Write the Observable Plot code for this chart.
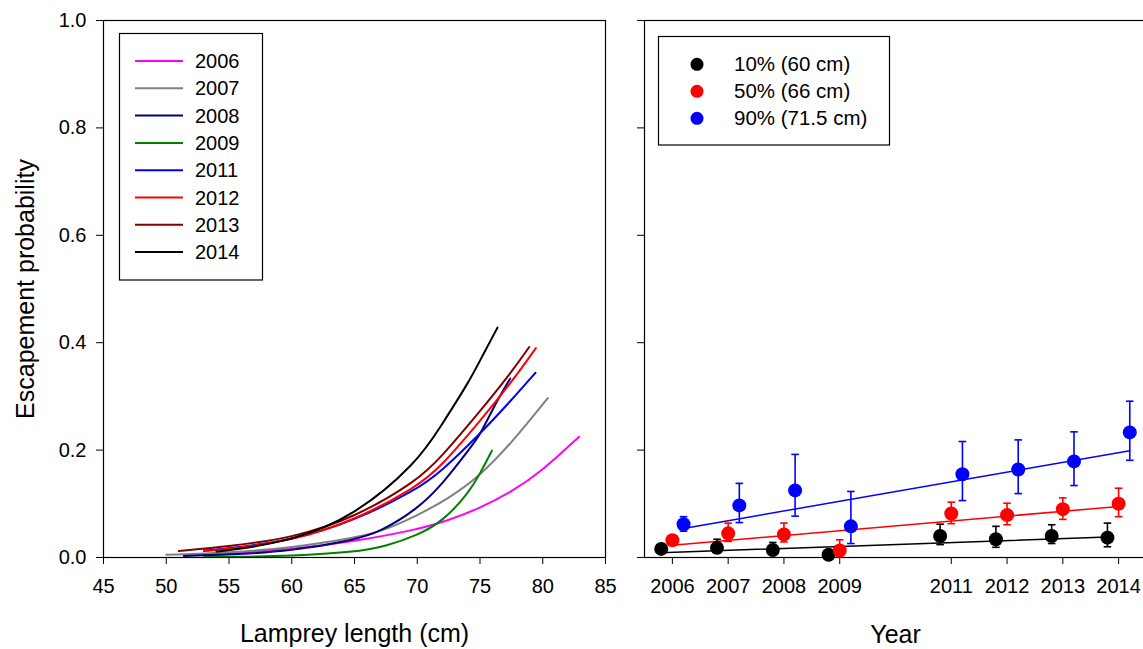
<!DOCTYPE html>
<html><head><meta charset="utf-8">
<script src="https://cdn.jsdelivr.net/npm/d3@7"></script>
<script src="https://cdn.jsdelivr.net/npm/@observablehq/plot@0.6"></script>
<style>
body{margin:0;background:#fff;}
#wrap{position:relative;width:1143px;height:649px;overflow:hidden;background:#fff;}
#left,#right{position:absolute;top:0;}
#left{left:0;width:620px;}
#right{left:620px;width:530px;}
#left svg,#right svg{max-width:none;}
#legend{position:absolute;left:0;top:0;}
</style></head>
<body><div id="wrap"><div id="left"></div><div id="right"></div><svg id="legend" width="1143" height="649"></svg></div>
<script>
const FONT = "Liberation Sans, Arial, sans-serif";

// ---------- Left panel data ----------
const curveYears = ["2006","2007","2008","2009","2011","2012","2013","2014"];
const curveColors = ["#ff00ff","#808080","#000080","#008000","#0000ff","#ff0000","#800000","#000000"];
const len2006 = [52, 55, 60, 65, 70, 72.36, 75, 77.5, 80, 82.9];
const prob2006 = [0.005, 0.008, 0.015, 0.030, 0.052, 0.068, 0.092, 0.122, 0.162, 0.225];
const len2007 = [50, 55, 60, 65, 67, 70, 72.5, 75, 77.5, 80.4];
const prob2007 = [0.005, 0.009, 0.018, 0.037, 0.047, 0.078, 0.110, 0.152, 0.213, 0.297];
const len2008 = [51.4, 55, 60, 65, 67, 70, 72, 74.35, 75, 76.3, 77.4];
const prob2008 = [0.003, 0.005, 0.012, 0.033, 0.047, 0.090, 0.136, 0.208, 0.228, 0.290, 0.333];
const len2009 = [53, 55, 60, 65, 67.5, 70, 72, 74, 75, 75.95];
const prob2009 = [0.0008, 0.0012, 0.003, 0.010, 0.021, 0.041, 0.067, 0.117, 0.156, 0.199];
const len2011 = [53, 55, 60, 65, 70, 71.84, 75, 77.5, 79.42];
const prob2011 = [0.013, 0.017, 0.032, 0.068, 0.127, 0.159, 0.230, 0.293, 0.344];
const len2012 = [53, 55, 60, 65, 70, 71.84, 75, 77.5, 79.45];
const prob2012 = [0.012, 0.016, 0.031, 0.069, 0.132, 0.168, 0.254, 0.326, 0.390];
const len2013 = [51, 55, 60, 65, 70, 71.84, 75, 77.5, 78.92];
const prob2013 = [0.012, 0.021, 0.036, 0.074, 0.143, 0.185, 0.272, 0.345, 0.392];
const len2014 = [54, 55, 60, 65, 70, 71.84, 74.17, 75, 76.39];
const prob2014 = [0.011, 0.013, 0.031, 0.077, 0.177, 0.243, 0.329, 0.367, 0.428];
const curveLengths = [len2006, len2007, len2008, len2009, len2011, len2012, len2013, len2014];
const curveProbs = [prob2006, prob2007, prob2008, prob2009, prob2011, prob2012, prob2013, prob2014];

const lengthTicks = [45, 50, 55, 60, 65, 70, 75, 80, 85];
const probTicks = [0, 0.2, 0.4, 0.6, 0.8, 1.0];
const leftXTitle = "Lamprey length (cm)";
const yTitle = "Escapement probability";

// ---------- Right panel data ----------
const years = [2006, 2007, 2008, 2009, 2011, 2012, 2013, 2014];
const seriesNames = ["10% (60 cm)", "50% (66 cm)", "90% (71.5 cm)"];
const seriesColors = ["#000000", "#ff0000", "#0000ff"];
const est10 = [0.016, 0.018, 0.014, 0.005, 0.040, 0.034, 0.040, 0.037];
const lo10  = [0.011, 0.008, 0.006, 0.001, 0.024, 0.019, 0.026, 0.020];
const hi10  = [0.021, 0.034, 0.028, 0.009, 0.062, 0.058, 0.061, 0.064];
const est50 = [0.032, 0.045, 0.043, 0.013, 0.082, 0.079, 0.090, 0.100];
const lo50  = [0.025, 0.030, 0.029, 0.003, 0.063, 0.061, 0.071, 0.076];
const hi50  = [0.038, 0.064, 0.064, 0.033, 0.103, 0.101, 0.111, 0.129];
const est90 = [0.062, 0.097, 0.125, 0.058, 0.155, 0.164, 0.179, 0.233];
const lo90  = [0.049, 0.065, 0.077, 0.026, 0.106, 0.119, 0.134, 0.181];
const hi90  = [0.076, 0.138, 0.192, 0.123, 0.216, 0.219, 0.234, 0.291];
// fitted trend lines: value at first and last year
const fitFirst = [0.009, 0.023, 0.054];
const fitLast  = [0.038, 0.095, 0.199];
const rightXTitle = "Year";

// ---------- Left plot ----------
const curveRows = curveYears.flatMap((yr, i) =>
  curveLengths[i].map((L, j) => ({year: yr, L, p: curveProbs[i][j]})));

const left = Plot.plot({
  width: 620, height: 649,
  marginLeft: 103, marginRight: 15, marginTop: 20, marginBottom: 92,
  style: {fontFamily: FONT, fontSize: "20px", background: "transparent", color: "#000"},
  x: {domain: [45, 85]},
  y: {domain: [0, 1]},
  color: {domain: curveYears, range: curveColors},
  marks: [
    Plot.line(curveRows, {x: "L", y: "p", z: "year", stroke: "year", strokeWidth: 2, curve: "basis"}),
    Plot.frame({stroke: "#000", strokeWidth: 1.2}),
    Plot.axisX({ticks: lengthTicks, tickSize: 7, tickPadding: 14, label: null, tickFormat: d => String(d)}),
    Plot.axisY({ticks: probTicks, tickSize: 7, tickPadding: 10, label: null, tickFormat: d3.format(".1f")}),
    Plot.text([leftXTitle], {frameAnchor: "bottom", dy: 84, text: d => d, fontSize: 25}),
    Plot.text([yTitle], {frameAnchor: "left", dx: -78, rotate: -90, textAnchor: "middle", text: d => d, fontSize: 25})
  ]
});
document.getElementById("left").appendChild(left);

// ---------- Right plot ----------
const ests = [est10, est50, est90], los = [lo10, lo50, lo90], his = [hi10, hi50, hi90];
const dodge = [-0.2, 0, 0.2];
const pointRows = seriesNames.flatMap((s, k) => years.map((yr, i) => ({
  s, x: yr + dodge[k], y: ests[k][i], lo: los[k][i], hi: his[k][i]
})));
const capRows = pointRows.flatMap(d => [{s: d.s, x: d.x, y: d.lo}, {s: d.s, x: d.x, y: d.hi}]);
const fitRows = seriesNames.flatMap((s, k) => [
  {s, x: years[0] + dodge[k], y: fitFirst[k]},
  {s, x: years[years.length - 1] + dodge[k], y: fitLast[k]}
]);
const capSymbol = {draw(ctx, size) { const r = Math.sqrt(size / Math.PI); ctx.moveTo(-r, 0); ctx.lineTo(r, 0); }};

const right = Plot.plot({
  width: 530, height: 649,
  marginLeft: 24, marginRight: 4, marginTop: 20, marginBottom: 92,
  style: {fontFamily: FONT, fontSize: "20px", background: "transparent", color: "#000"},
  x: {domain: [2005.5, 2014.5]},
  y: {domain: [0, 1]},
  color: {domain: seriesNames, range: seriesColors},
  marks: [
    Plot.frame({stroke: "#000", strokeWidth: 1.2}),
    Plot.axisX({ticks: years, tickSize: 7, tickPadding: 14, label: null, tickFormat: d => String(d)}),
    Plot.axisY({ticks: probTicks, tickSize: 7, label: null, tickFormat: () => ""}),
    Plot.line(fitRows, {x: "x", y: "y", z: "s", stroke: "s", strokeWidth: 1.5}),
    Plot.ruleX(pointRows, {x: "x", y1: "lo", y2: "hi", stroke: "s", strokeWidth: 1.6}),
    Plot.dot(capRows, {x: "x", y: "y", stroke: "s", fill: "none", symbol: capSymbol, r: 3.8, strokeWidth: 1.6}),
    Plot.dot(pointRows, {x: "x", y: "y", fill: "s", r: 7}),
    Plot.text([rightXTitle], {frameAnchor: "bottom", dy: 85, text: d => d, fontSize: 25})
  ]
});
document.getElementById("right").appendChild(right);

// ---------- Legends (overlay) ----------
const lg = d3.select("#legend").style("font-family", FONT);
const L1 = lg.append("g");
L1.append("rect").attr("x", 119.5).attr("y", 33.5).attr("width", 143).attr("height", 246.5)
  .attr("fill", "#fff").attr("stroke", "#000").attr("stroke-width", 1.2);
curveYears.forEach((yr, i) => {
  const y = 61 + i * 27.3;
  L1.append("line").attr("x1", 135).attr("x2", 183).attr("y1", y).attr("y2", y)
    .attr("stroke", curveColors[i]).attr("stroke-width", 2);
  L1.append("text").attr("x", 195).attr("y", y).attr("dy", "0.35em")
    .attr("font-size", 20).text(yr);
});
const L2 = lg.append("g");
L2.append("rect").attr("x", 658.5).attr("y", 36.5).attr("width", 231).attr("height", 108.5)
  .attr("fill", "#fff").attr("stroke", "#000").attr("stroke-width", 1.2);
seriesNames.forEach((s, i) => {
  const y = 64.3 + i * 27;
  L2.append("circle").attr("cx", 697).attr("cy", y).attr("r", 6.5).attr("fill", seriesColors[i]);
  L2.append("text").attr("x", 734).attr("y", y).attr("dy", "0.35em")
    .attr("font-size", 20.5).text(s);
});
</script>
</body></html>
